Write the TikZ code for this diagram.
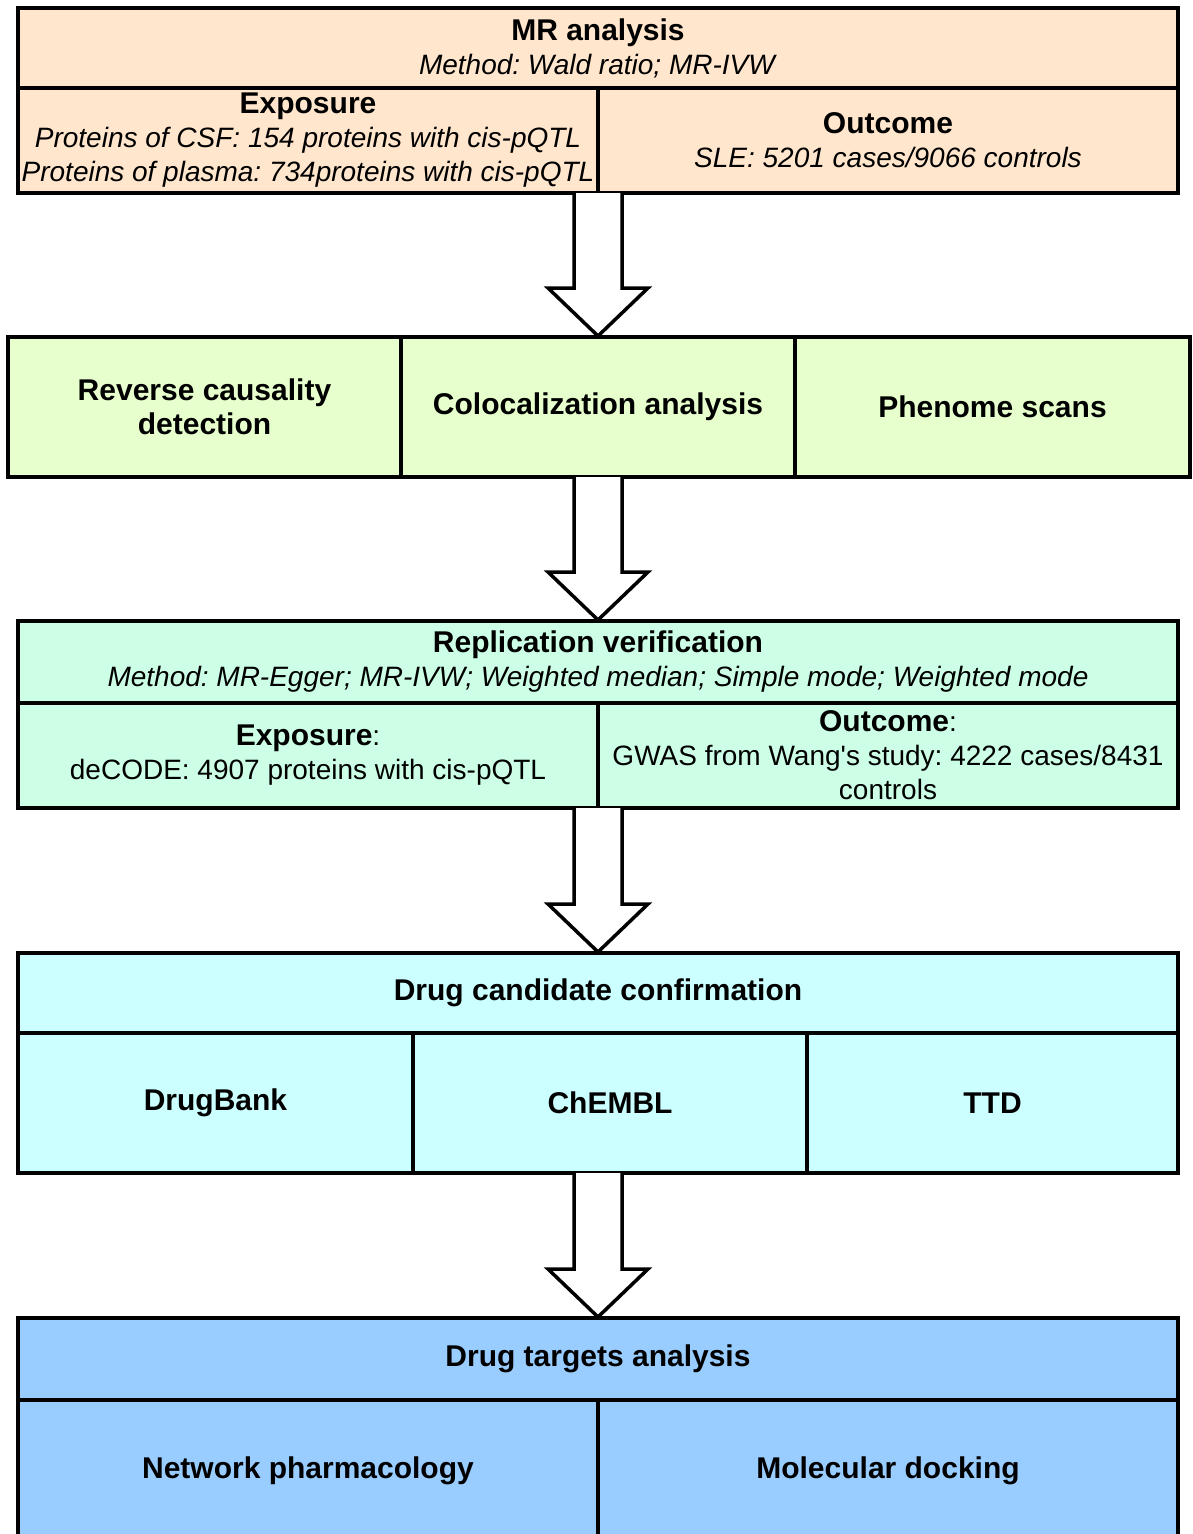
\documentclass[tikz,border=0pt]{standalone}
\usepackage{fontspec}
\setmainfont{Liberation Sans}
\usetikzlibrary{positioning,calc}
\definecolor{mrpeach}{HTML}{FFE6CC}
\definecolor{qcgreen}{HTML}{E6FFCC}
\definecolor{repmint}{HTML}{CCFFE6}
\definecolor{drugcyan}{HTML}{CCFFFF}
\definecolor{targblue}{HTML}{99CCFF}
\frenchspacing
\tikzset{cell/.style={draw, line width=3.5pt, inner sep=0pt, outer sep=0pt, align=center,
    font=\fontsize{28}{34}\selectfont}}
\tikzset{hollow/.style={draw, fill=white, line width=3.5pt, line join=miter}}
\newcommand{\cellhead}[1]{{\bfseries\fontsize{30}{34}\selectfont #1}}
% block arrow from the bottom of #1 to the top of #2
\newcommand{\flowarrow}[2]{%
  \coordinate (s) at (#1.south -| #2.north);
  \draw[hollow] ($(s)+(-24,0)$) -- ($(#2.north)+(-24,-49)$) -- ($(#2.north)+(-50,-49)$)
    -- ($(#2.north)+(0,-1)$) -- ($(#2.north)+(50,-49)$) -- ($(#2.north)+(24,-49)$)
    -- ($(s)+(24,0)$);}

\begin{document}
\begin{tikzpicture}[x=1pt, y=-1pt]
    \useasboundingbox (0,0) rectangle (1192,1534);

    % MR analysis
    \node[cell, fill=mrpeach, anchor=north west, minimum width=1160pt, minimum height=80pt] (mr) at (18,8)
        {\cellhead{MR analysis}\\\textit{Method: Wald ratio; MR-IVW}};
    \node[cell, fill=mrpeach, minimum width=580pt, minimum height=105pt, below right=0pt and 0pt of mr.south west] (exp)
        {\cellhead{Exposure}\\\textit{Proteins of CSF: 154 proteins with cis-pQTL}\\\textit{Proteins of plasma: 734proteins with cis-pQTL}};
    \node[cell, fill=mrpeach, minimum width=580pt, minimum height=105pt, right=0pt of exp] (out)
        {\cellhead{Outcome}\\\textit{SLE: 5201 cases/9066 controls}};

    % checks
    \node[cell, fill=qcgreen, anchor=north west, minimum width=393pt, minimum height=140pt] (rev) at (8,337)
        {\cellhead{Reverse causality}\\\cellhead{detection}};
    \node[cell, fill=qcgreen, minimum width=394pt, minimum height=140pt, right=0pt of rev] (coloc)
        {\cellhead{Colocalization analysis}};
    \node[cell, fill=qcgreen, minimum width=395pt, minimum height=140pt, right=0pt of coloc] (phen)
        {\cellhead{Phenome scans}};

    % replication
    \node[cell, fill=repmint, anchor=north west, minimum width=1160pt, minimum height=82pt] (rep) at (18,621)
        {\cellhead{Replication verification}\\\textit{Method: MR-Egger; MR-IVW; Weighted median; Simple mode; Weighted mode}};
    \node[cell, fill=repmint, minimum width=580pt, minimum height=105pt, below right=0pt and 0pt of rep.south west] (exp2)
        {\cellhead{Exposure}:\\deCODE: 4907 proteins with cis-pQTL};
    \node[cell, fill=repmint, minimum width=580pt, minimum height=105pt, right=0pt of exp2] (out2)
        {\cellhead{Outcome}:\\GWAS from Wang\textquotesingle s study: 4222 cases/8431\\controls};

    % drug candidates
    \node[cell, fill=drugcyan, anchor=north west, minimum width=1160pt, minimum height=80pt] (drug) at (18,953)
        {\cellhead{Drug candidate confirmation}};
    \node[cell, fill=drugcyan, minimum width=395pt, minimum height=140pt, below right=0pt and 0pt of drug.south west] (bank)
        {\cellhead{DrugBank}};
    \node[cell, fill=drugcyan, minimum width=394pt, minimum height=140pt, right=0pt of bank] (chembl)
        {\cellhead{ChEMBL}};
    \node[cell, fill=drugcyan, minimum width=371pt, minimum height=140pt, right=0pt of chembl] (ttd)
        {\cellhead{TTD}};

    % drug targets
    \node[cell, fill=targblue, anchor=north west, minimum width=1160pt, minimum height=82pt] (targ) at (18,1318)
        {\cellhead{Drug targets analysis}};
    \node[cell, fill=targblue, minimum width=580pt, minimum height=142pt, below right=0pt and 0pt of targ.south west] (net)
        {\cellhead{Network pharmacology}};
    \node[cell, fill=targblue, minimum width=580pt, minimum height=142pt, right=0pt of net] (mol)
        {\cellhead{Molecular docking}};

    \flowarrow{exp}{coloc}
    \flowarrow{coloc}{rep}
    \flowarrow{exp2}{drug}
    \flowarrow{chembl}{targ}
\end{tikzpicture}
\end{document}
